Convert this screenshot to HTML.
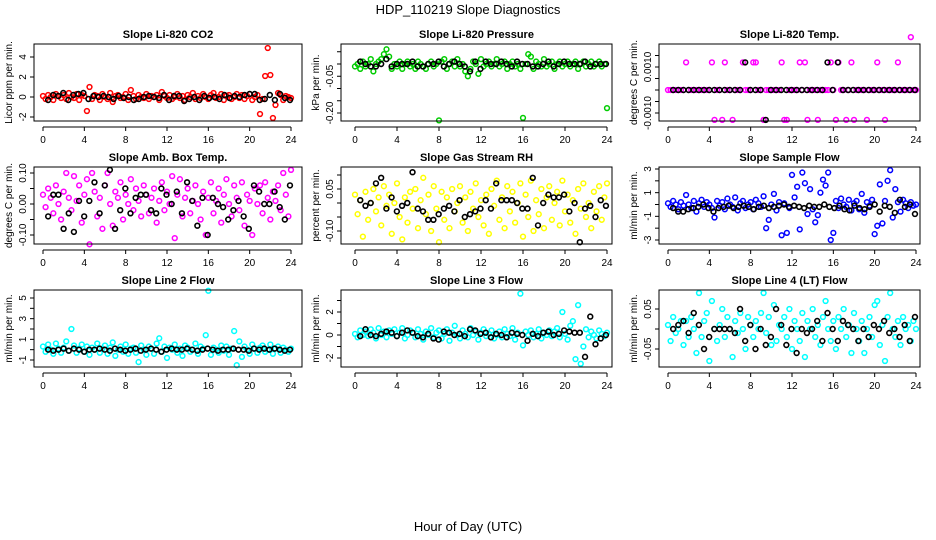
<!DOCTYPE html>
<html><head><meta charset="utf-8"><style>
html,body{margin:0;padding:0;background:#fff;}
svg{display:block;font-family:"Liberation Sans",sans-serif;}
</style></head><body>
<svg id="c" width="936" height="540" viewBox="0 0 936 540" xmlns="http://www.w3.org/2000/svg">
<text x="468" y="14" text-anchor="middle" font-size="13">HDP_110219  Slope Diagnostics</text>
<text x="468" y="531" text-anchor="middle" font-size="13">Hour of Day (UTC)</text>
</svg>
<script>
const xTicks=[0,4,8,12,16,20,24];
const co2Color=[0.1,-0.2,0.2,0,-0.3,0.3,0.1,-0.1,0.2,-0.2,0.4,0,-0.1,0.3,-0.3,0.2,0.1,-1.4,1.0,-0.2,0.2,0.1,-0.3,0.3,0,-0.2,0.4,-0.5,0.1,0.2,-0.1,0,0.3,-0.3,0.7,0.1,-0.2,0.2,0,-0.1,0.3,-0.2,0.1,0,0.2,-0.3,0.5,0.1,-0.1,0.2,-0.2,0,0.3,-0.1,0.1,-0.3,0.2,0,0.4,-0.2,0.1,-0.1,0.3,0,-0.2,0.2,0.4,-0.1,0,0.3,-0.3,0.1,0.2,-0.2,0,0.3,-0.1,0.2,-0.2,0.1,0.3,-0.3,0,0.2,-1.7,-0.2,2.1,4.9,2.2,-2.1,-0.8,0.4,0.2,-0.3,0.1,0,-0.1];
const co2Black=[-0.3,0.2,0.1,0.4,-0.3,0.2,0.3,0.4,-0.2,0.1,0,0.1,0,-0.2,0.1,-0.1,0,-0.3,-0.2,0,0.1,0,-0.1,0.2,-0.3,0.1,0.1,-0.4,-0.2,0,-0.3,0.1,-0.1,0,-0.2,0.2,-0.1,0.1,0,0.2,0.3,0.3,-0.3,-0.2,0.2,-0.3,0.3,-0.1,-0.3];
const presColor=[-0.01,0.0,-0.02,0.01,-0.01,0.0,0.02,-0.03,0.0,0.01,0.02,0.04,0.06,0.03,-0.02,0.0,-0.01,0.01,-0.02,0.0,0.01,-0.01,0.0,-0.02,0.01,0.0,-0.01,-0.02,0.0,0.01,-0.01,0.0,-0.23,0.01,0.02,-0.02,0.0,0.01,-0.01,0.02,-0.01,0.0,-0.03,-0.05,-0.02,0.01,0.0,-0.04,0.02,-0.01,0.0,0.01,-0.01,0.0,0.02,-0.01,0.0,0.01,-0.02,0.0,0.01,-0.01,0.0,-0.02,-0.22,0.0,0.04,0.03,-0.02,0.01,0.0,-0.01,0.02,-0.01,0.0,0.01,-0.02,0.0,0.01,-0.01,0.0,0.01,-0.01,0.0,0.01,-0.02,0.0,0.01,-0.01,0.0,0.01,-0.01,0.0,0.01,-0.01,0.0,-0.18];
const presBlack=[0.01,0.0,-0.01,-0.01,0.0,0.02,-0.01,0.0,0.0,0.0,0.01,-0.01,-0.01,0.0,0.0,0.01,-0.01,0.0,0.01,0.0,-0.01,-0.03,0.01,-0.02,0.01,0.0,0.0,0.01,0.0,-0.01,0.01,0.0,0.0,-0.01,-0.01,0.0,0.01,-0.01,0.0,0.01,0.0,0.0,0.0,0.01,-0.01,0.0,0.0,0.0];
const tempColor=[0,0,0,0,0,0,0,.0012,0,0, 0,0,0,0,0,0,0,.0012,-.0013,0, 0,-.0013,.0012,0,0,-.0013,0,0,0,.0012, 0,0,0,.0012,.0012,0,0,-.0013,0,0, 0,0,0,0,.0012,-.0013,-.0013,0,0,0, 0,.0012,0,.0012,-.0013,0,0,0,-.0013,0, 0,0,0,.0012,0,-.0013,.0012,0,0,-.0013, 0,.0012,-.0013,0,0,0,0,-.0013,0,0, 0,.0012,0,0,-.0013,0,0,0,0,.0012, 0,0,0,0,.0023,0,0];
const tempBlack=[0,0,0,0,0,0,0,0,0,0,0,0,0,0,.0012,0,0,0,-.0013,0,0,0,0,0,0,0,0,0,0,0,.0012,0,.0012,0,0,0,0,0,0,0,0,0,0,0,0,0,0,0];
const ambColor=[0.03,-0.01,0.05,0.02,-0.03,0.06,0.0,-0.05,0.04,0.1,0.02,-0.02,0.09,0.01,0.06,-0.06,0.03,0.08,-0.13,0.1,0.04,-0.04,0.02,-0.08,0.06,0.1,0.0,-0.07,0.04,0.02,0.07,-0.05,0.03,0.0,0.08,-0.02,0.05,0.01,-0.04,0.06,0.03,-0.03,0.02,0.05,-0.06,0.01,0.07,-0.02,0.04,0.0,0.09,-0.11,0.03,0.08,-0.04,0.02,0.05,-0.03,0.01,0.06,0.0,-0.05,0.04,-0.1,0.02,0.07,-0.03,0.01,0.05,-0.06,0.03,0.08,0.0,-0.04,0.06,0.02,-0.02,0.07,-0.07,0.03,0.01,-0.1,0.05,0.0,0.06,-0.03,0.07,0.02,-0.05,0.04,0.01,0.06,-0.02,0.1,0.03,-0.04,0.11];
const ambBlack=[-0.04,0.03,0.03,-0.08,-0.03,-0.09,0.01,-0.04,0.01,0.07,-0.03,0.06,0.11,-0.08,-0.02,0.05,-0.03,0.02,0.03,0.03,-0.02,-0.03,0.05,0.03,0.0,0.04,-0.03,0.07,0.01,-0.07,0.02,-0.1,0.02,0.0,-0.01,-0.05,-0.02,0.01,-0.04,-0.08,0.06,0.04,0.0,0.0,0.04,-0.01,-0.05,0.06];
const rhColor=[0.03,-0.04,0.01,-0.12,0.04,-0.06,0.0,0.05,-0.03,0.02,-0.08,0.06,-0.01,0.03,-0.11,0.0,0.07,-0.05,-0.13,0.02,-0.07,0.04,-0.02,0.05,-0.09,0.01,0.09,-0.04,0.03,-0.1,0.06,-0.02,-0.14,0.04,-0.06,0.02,-0.09,0.05,-0.03,0.0,0.06,-0.07,0.02,-0.1,0.04,-0.02,0.07,-0.05,0.01,-0.08,0.03,-0.11,0.05,-0.01,0.08,-0.06,0.02,-0.09,0.06,-0.03,0.04,-0.07,0.0,0.07,-0.12,0.03,-0.05,0.08,-0.1,0.01,-0.04,0.05,-0.09,0.02,0.06,-0.06,0.0,0.04,-0.08,0.08,-0.03,0.03,-0.07,0.01,-0.11,0.05,-0.02,0.07,-0.05,0.0,-0.09,0.04,-0.03,0.06,-0.06,0.02,0.07];
const rhBlack=[0.01,-0.01,0.0,0.07,0.09,-0.02,0.02,-0.03,-0.01,0.0,0.11,-0.02,-0.03,-0.06,-0.06,-0.04,-0.02,-0.01,-0.03,0.01,-0.05,-0.04,-0.03,-0.02,0.01,-0.02,0.07,0.01,0.01,0.01,0.0,-0.02,-0.02,0.09,-0.08,0.0,0.03,0.02,0.02,0.03,-0.03,0.0,-0.14,-0.02,-0.01,-0.05,0.01,-0.01];
const flowColor=[0.1,-0.2,0.3,0.0,-0.4,0.2,-0.1,0.8,0.0,-0.3,0.3,-0.6,0.1,0.4,-0.2,0.2,0.0,-0.3,-1.1,0.3,-0.1,0.2,-0.4,0.5,0.0,-0.2,0.6,-0.5,0.1,0.3,-0.3,0.0,0.2,-0.4,0.4,0.1,-0.2,0.7,-2.0,-1.3,0.0,0.9,-0.5,0.2,-2.6,0.1,-2.4,-0.3,2.5,0.6,1.5,-2.1,2.7,1.8,-0.8,1.3,-0.4,-1.5,-0.9,1.0,2.1,1.6,2.7,-3.0,-2.4,0.3,-0.3,0.5,0.0,-0.2,0.4,-0.5,0.1,0.3,-0.4,0.9,-0.7,0.2,-0.1,0.4,-2.5,-1.8,1.7,-1.6,0.3,2.0,2.9,-1.1,1.3,0.2,-0.6,0.4,0.1,-0.3,0.2,-0.1,0.0];
const flowBlack=[-0.3,-0.6,-0.6,-0.4,-0.3,-0.2,0.0,-0.3,-0.6,-0.3,-0.2,-0.1,-0.3,-0.2,-0.1,-0.2,-0.4,-0.2,-0.1,-0.3,-0.2,-0.1,0.0,-0.2,-0.1,-0.2,-0.3,-0.1,-0.2,-0.2,0.0,-0.2,-0.3,-0.1,-0.4,-0.5,-0.1,-0.3,-0.4,-0.2,0.0,-0.6,-0.1,-0.2,-0.7,0.4,-0.2,0.0,-0.8];
const line2Color=[0.3,-0.2,0.5,0.0,-0.4,0.6,0.1,-0.3,0.2,0.8,-0.1,2.0,0.4,-0.3,0.1,0.5,-0.2,0.3,-0.5,0.2,0.0,0.6,-0.3,0.1,0.4,-0.4,0.2,0.7,-0.6,0.0,0.3,-0.2,0.5,-0.4,0.1,0.2,-0.3,-1.2,0.4,0.0,-0.5,0.3,0.1,-0.4,0.6,1.1,-0.2,0.3,-0.8,0.2,0.0,0.5,-0.3,0.1,-0.6,0.4,0.2,-0.2,0.0,0.6,-0.4,0.3,0.1,1.4,5.7,-0.5,0.2,0.0,-0.3,0.4,-0.1,0.3,-0.5,0.1,1.8,-1.5,0.8,-0.7,0.3,0.0,-0.4,0.5,0.1,-0.3,0.2,0.4,-0.2,0.0,0.5,-0.4,0.1,0.3,-0.3,0.2,0.0,-0.2,0.1];
const line2Black=[0,-0.1,0,0.1,-0.1,0.1,0,-0.2,0,0,0.1,0,-0.1,0.1,0,-0.1,0,0.1,-0.1,0,0.1,0,-0.2,0,0.1,0,0,0.1,0,-0.1,0,0.1,0,-0.1,0,0,0.1,0,0,-0.1,0.1,0,0.1,0,0.1,0,-0.1,0];
const line3Color=[0.1,-0.2,0.4,0.0,0.3,-0.1,0.5,0.2,-0.3,0.6,0.0,0.3,-0.2,0.4,0.1,0.5,-0.1,0.2,0.6,-0.3,0.0,0.4,0.2,-0.2,0.5,0.1,-0.4,0.3,0.0,0.6,-0.2,0.2,0.4,-0.3,0.1,0.5,-0.5,0.2,0.8,0.0,-0.3,0.4,0.1,-0.2,0.6,0.0,0.3,-0.4,0.2,0.5,-0.1,0.1,0.4,-0.3,0.0,0.3,-0.2,0.5,0.1,-0.1,0.6,-0.4,0.2,3.6,-0.9,0.3,0.0,0.4,-0.2,0.1,0.5,-0.3,0.2,0.0,0.4,-0.1,0.3,0.6,-0.2,2.0,0.1,-0.4,0.8,1.2,-2.1,2.6,-2.5,-1.0,0.5,-0.2,0.3,0.0,-0.3,0.4,0.1,-0.1,0.2];
const line3Black=[-0.1,0.5,0.0,-0.1,0.1,0.3,0.2,-0.1,0.2,0.4,0.2,-0.1,-0.2,0.1,-0.3,-0.4,0.3,0.2,0.0,0.1,-0.1,0.5,0.4,0.1,0.2,-0.2,0.1,0.0,-0.2,0.2,0.1,0.0,-0.5,0.1,-0.1,0.2,0.3,0.0,0.1,0.4,0.3,0.2,0.2,-1.9,1.6,-0.8,-0.3,0.0];
const line4Color=[0.01,-0.03,0.03,-0.01,0.0,0.02,-0.04,0.02,-0.02,0.03,0.0,-0.06,0.09,-0.02,0.02,0.04,-0.08,0.07,0.0,-0.03,0.01,0.05,-0.02,0.03,0.0,-0.07,0.02,-0.01,0.04,0.0,-0.05,0.03,0.01,-0.02,0.02,0.0,0.04,0.09,-0.01,0.03,-0.04,0.06,-0.03,0.01,0.0,0.03,-0.02,0.05,-0.05,0.02,0.0,-0.03,0.04,-0.07,0.02,0.0,0.05,-0.02,0.01,-0.04,0.03,0.07,0.0,-0.03,0.02,-0.05,0.03,0.0,0.05,-0.02,0.01,-0.06,0.04,0.0,-0.03,0.02,-0.06,0.0,0.03,-0.02,0.06,0.07,-0.04,0.01,-0.08,0.03,0.09,0.0,-0.02,0.02,-0.04,0.03,0.0,0.01,-0.03,0.02,0.0];
const line4Black=[0.0,0.01,0.02,-0.01,0.04,0.01,-0.05,-0.02,0.0,0.0,0.0,0.0,-0.01,0.05,-0.03,0.01,-0.05,0.0,-0.04,-0.02,0.05,0.01,-0.04,0.0,-0.06,0.0,-0.01,0.0,0.02,-0.03,0.04,0.0,-0.03,0.02,0.01,0.0,-0.03,0.0,-0.02,0.01,0.0,0.02,-0.01,0.0,-0.02,0.01,-0.03,0.03];
const co2Ticks=[-2,0,2,4], co2Labels=["-2","0","2","4"];
const presTicks=[-0.2,-0.15,-0.1,-0.05,0,0.05], presLabels=["-0.20","","","-0.05","",""];
const tempTicks=[-0.001,-0.0005,0,0.0005,0.001,0.0015], tempLabels=["-0.0010","","","","0.0010",""];
const ambTicks=[-0.1,-0.05,0,0.05,0.1], ambLabels=["-0.10","","0.00","","0.10"];
const rhTicks=[-0.1,-0.05,0,0.05,0.1], rhLabels=["-0.10","","","0.05",""];
const flowTicks=[-3,-2,-1,0,1,2,3], flowLabels=["-3","","-1","","1","","3"];
const line2Ticks=[-1,0,1,2,3,4,5], line2Labels=["-1","","1","","3","","5"];
const line3Ticks=[-2,-1,0,1,2,3], line3Labels=["-2","","0","","2",""];
const line4Ticks=[-0.05,0,0.05], line4Labels=["-0.05","","0.05"];

const NS="http://www.w3.org/2000/svg";
const svg=document.getElementById('c');
function mk(t,a,p){const e=document.createElementNS(NS,t);for(const k in a)e.setAttribute(k,a[k]);(p||svg).appendChild(e);return e;}
const cols=[{L:34,R:302,x0:43,x1:291},{L:341,R:612,x0:355,x1:607},{L:659,R:920,x0:668,x1:916}];
const rows=[{T:44,B:121},{T:167,B:244},{T:290,B:367}];
const panels=[
 {t:"Slope Li-820 CO2",yl:"Licor ppm per min.",c:"#ff0000",col:co2Color,blk:co2Black,tk:co2Ticks,lb:co2Labels,m:[0,97,4,57],id:"co2"},
 {t:"Slope Li-820 Pressure",yl:"kPa per min.",c:"#00cc00",col:presColor,blk:presBlack,tk:presTicks,lb:presLabels,m:[0,64,-0.2,113],id:"pressure"},
 {t:"Slope Li-820 Temp.",yl:"degrees C per min.",c:"#ff00ff",col:tempColor,blk:tempBlack,tk:tempTicks,lb:tempLabels,m:[0,90,0.001,67],id:"li820-temp"},
 {t:"Slope Amb. Box Temp.",yl:"degrees C per min.",c:"#ff00ff",col:ambColor,blk:ambBlack,tk:ambTicks,lb:ambLabels,m:[0,204,0.1,173],id:"amb-box-temp"},
 {t:"Slope Gas Stream RH",yl:"percent per min.",c:"#ffff00",col:rhColor,blk:rhBlack,tk:rhTicks,lb:rhLabels,m:[0,203,-0.1,231],id:"gas-stream-rh"},
 {t:"Slope Sample Flow",yl:"ml/min per min.",c:"#0000ff",col:flowColor,blk:flowBlack,tk:flowTicks,lb:flowLabels,m:[0,204.5,3,169],id:"sample-flow"},
 {t:"Slope Line 2 Flow",yl:"ml/min per min.",c:"#00ffff",col:line2Color,blk:line2Black,tk:line2Ticks,lb:line2Labels,m:[5,298,-1,360],id:"line2-flow"},
 {t:"Slope Line 3 Flow",yl:"ml/min per min.",c:"#00ffff",col:line3Color,blk:line3Black,tk:line3Ticks,lb:line3Labels,m:[0,335,2,312],id:"line3-flow"},
 {t:"Slope Line 4 (LT) Flow",yl:"ml/min per min.",c:"#00ffff",col:line4Color,blk:line4Black,tk:line4Ticks,lb:line4Labels,m:[0,329,0.05,309],id:"line4-flow"}
];
panels.forEach((p,i)=>{
 const C=cols[i%3],Rw=rows[Math.floor(i/3)];
 const g=mk('g',{});
 
 
 const xs=h=>C.x0+(C.x1-C.x0)*h/24;
 const ys=v=>p.m[1]+(v-p.m[0])*(p.m[3]-p.m[1])/(p.m[2]-p.m[0]);
 const tt=mk('text',{x:(C.L+C.R)/2,y:Rw.T-6,'text-anchor':'middle','font-size':11,'font-weight':'bold'},g);
 tt.textContent=p.t;
 
 
 // colored points
 const n=p.col.length;
 p.col.forEach((v,k)=>{
  const e=mk('circle',{cx:xs(k*24/(n-1)),cy:ys(v),r:2.4,fill:'none',stroke:p.c,'stroke-width':1.5},g);
  
  
 });
 const nb=p.blk.length;
 p.blk.forEach((v,k)=>{
  const e=mk('circle',{cx:xs(0.5+k*23.4/(nb-1)),cy:ys(v),r:2.4,fill:'none',stroke:'#000','stroke-width':1.6},g);
  
  
 });
 const box=mk('rect',{x:C.L,y:Rw.T,width:C.R-C.L,height:Rw.B-Rw.T,fill:'none',stroke:'#000','stroke-width':1},g);
 
 
 // x axis
 const ay=Rw.B+6;
 const xa=mk('line',{x1:xs(0),x2:xs(24),y1:ay,y2:ay,stroke:'#000'},g);
 
 
 xTicks.forEach(h=>{
  mk('line',{x1:xs(h),x2:xs(h),y1:ay,y2:ay+4,stroke:'#000'},g);
  const t=mk('text',{x:xs(h),y:ay+16,'text-anchor':'middle','font-size':10},g);
  t.textContent=h;
  
  
 });
 // y axis
 const ya=mk('line',{x1:C.L,x2:C.L,y1:ys(p.tk[0]),y2:ys(p.tk[p.tk.length-1]),stroke:'#000'},g);
 
 
 p.tk.forEach((v,k)=>{
  mk('line',{x1:C.L-4,x2:C.L,y1:ys(v),y2:ys(v),stroke:'#000'},g);
  if(p.lb[k]){
   const tx=C.L-8,ty=ys(v);
   const t=mk('text',{x:tx,y:ty,'text-anchor':'middle','font-size':10,transform:`rotate(-90 ${tx} ${ty})`},g);
   t.textContent=p.lb[k];
   
   
  }
 });
 const lx=C.L-22,ly=(Rw.T+Rw.B)/2;
 const yl=mk('text',{x:lx,y:ly,'text-anchor':'middle','font-size':10,transform:`rotate(-90 ${lx} ${ly})`},g);
 yl.textContent=p.yl;
 
 
});
</script>
</body></html>
